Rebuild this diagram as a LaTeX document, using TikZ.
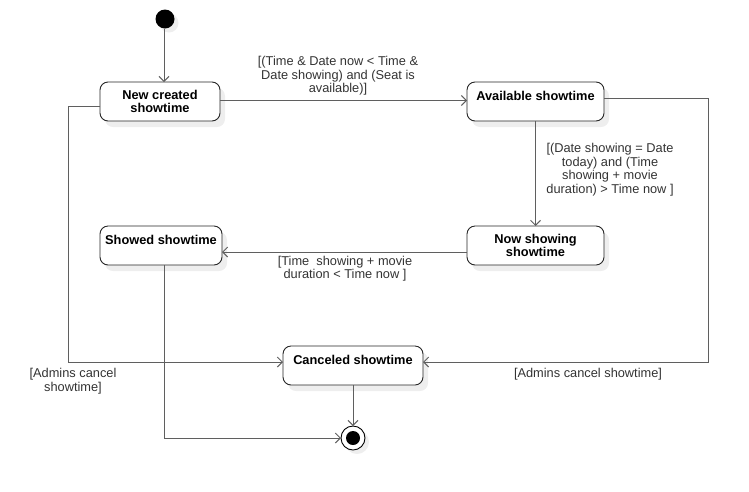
\documentclass[tikz,border=0pt]{standalone}
\usepackage{fontspec}
\setmainfont{Liberation Sans}
\usetikzlibrary{arrows.meta,shadows,calc}
\definecolor{edgegray}{HTML}{5F5F5F}
\definecolor{labelgray}{HTML}{333333}
\definecolor{shadowgray}{HTML}{EEEEEE}
\begin{document}
\begin{tikzpicture}[x=1pt,y=-1pt,
  every node/.style={inner sep=0pt, outer sep=0pt},
  statebox/.style={draw=black!85, line width=0.9pt, rounded corners=8pt, fill=white,
     font=\fontsize{12.8}{13.5}\selectfont\bfseries, align=center, minimum height=39pt,
     drop shadow={shadow xshift=5pt, shadow yshift=-6pt, fill=shadowgray, opacity=1}},
  topbox/.style={statebox, text height=18pt, text depth=21pt, minimum height=0pt},
  flow/.style={draw=edgegray, line width=1pt, -{Straight Barb[length=5pt,width=10pt,line width=1pt]}},
  guard/.style={font=\fontsize{12.8}{13.5}\selectfont, text=labelgray, align=center}
]
\useasboundingbox (0,0) rectangle (749,491);

\node[circle, fill=black, minimum size=19pt,
  drop shadow={shadow xshift=4pt, shadow yshift=-4pt, fill=shadowgray, opacity=1}] (init) at (165,19) {};

\node[statebox, minimum width=120pt] (new) at (160,101.5) {New created\\showtime};
\node[topbox, minimum width=137pt] (avail) at (535.5,101.5) {Available showtime};
\node[statebox, minimum width=137pt] (now) at (535.5,245.5) {Now showing\\showtime};
\node[topbox, minimum width=122pt] (showed) at (161,245.5) {Showed showtime};
\node[topbox, minimum width=140pt] (cancel) at (353,365.5) {Canceled showtime};

\node[circle, draw=black, line width=0.9pt, fill=white, minimum size=24pt,
  drop shadow={shadow xshift=4pt, shadow yshift=-4pt, fill=shadowgray, opacity=1}] (final) at (353,438) {};
\node[circle, fill=black, minimum size=14pt] (finaldot) at (final.center) {};

% connectors
\draw[flow] (init.south -| 164,0) -- (new.north -| 164,0);
\draw[flow] ($(new.east)+(0,-1)$) -- ($(avail.west)+(0,-1)$);
\draw[flow] (avail.south) -- (now.north);
\draw[flow] ($(now.west)+(0,6.5)$) -- ($(showed.east)+(0,6.5)$);
\draw[flow] ($(showed.south)+(3,0)$) |- (final.west);
\draw[flow] (cancel.south) -- (final.north);
\draw[flow] ($(new.west)+(0,4.5)$) -- ++(-32,0) |- ($(cancel.west)+(0,-3.5)$);
\draw[flow] ($(avail.east)+(0,-3.5)$) -- ++(104,0) |- ($(cancel.east)+(0,-3.5)$);

% guards
\node[guard] (g1) at (338,76) {[(Time \& Date now < Time \&\\Date showing) and (Seat is\\available)]};
\node[guard] (g2) at (610,169.5) {[(Date showing = Date\\today) and (Time\\showing + movie\\duration) > Time now ]};
\node[guard] (g3) at (345,268.5) {[Time\ \ showing + movie\\duration < Time now ]};
\node[guard] (g4) at (73,381) {[Admins cancel\\showtime]};
\node[guard] (g5) at (588,374.5) {[Admins cancel showtime]};
\end{tikzpicture}
\end{document}
